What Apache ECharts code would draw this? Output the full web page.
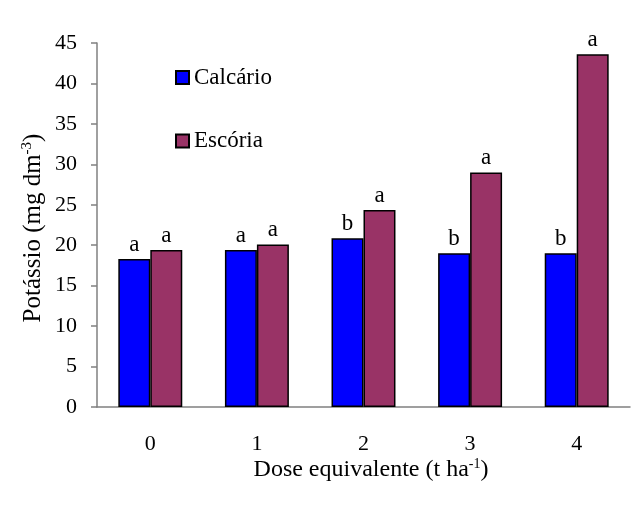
<!DOCTYPE html>
<html><head><meta charset="utf-8">
<script src="https://cdn.jsdelivr.net/npm/echarts@6/dist/echarts.min.js"></script>
<style>html,body{margin:0;padding:0;background:#fff}#c{width:640px;height:511px}</style>
</head><body><div id="c"></div>
<script>
var categories = ['0', '1', '2', '3', '4'];
var calcario = [18.3, 19.4, 20.85, 19.0, 19.0];
var escoria = [19.4, 20.1, 24.35, 29.0, 43.6];
var lettersCalcario = ['a', 'a', 'b', 'b', 'b'];
var lettersEscoria = ['a', 'a', 'a', 'a', 'a'];
var yTicks = [0, 5, 10, 15, 20, 25, 30, 35, 40, 45];

var FONT = '"Liberation Serif", "Times New Roman", serif';
var chart = echarts.init(document.getElementById('c'), null, {renderer: 'canvas'});
function mk(name, vals, letters, color) {
  return {
    name: name, type: 'bar', barGap: '0%', barCategoryGap: '40%',
    data: vals,
    itemStyle: {color: color, borderColor: '#000', borderWidth: 1.5},
    label: {show: true, position: 'top', distance: 3, color: '#000', fontFamily: FONT, fontSize: 23,
      formatter: function (p) { return letters[p.dataIndex]; }},
    emphasis: {disabled: true}
  };
}
var supRich = {
  n: {fontFamily: FONT, fontSize: 24, fill: '#000', color: '#000'},
  s: {fontFamily: FONT, fontSize: 14, fill: '#000', color: '#000', padding: [0, 0, 12, 0]}
};
var supRichY = {
  n: {fontFamily: FONT, fontSize: 25, fill: '#000', color: '#000'},
  s: {fontFamily: FONT, fontSize: 15, fill: '#000', color: '#000', padding: [0, 0, 12, 0]}
};
chart.setOption({
  animation: false,
  grid: {left: 97, right: 10, top: 43, bottom: 104},
  legend: [
    {data: ['Calcário'], left: 170, top: 61, icon: 'rect', itemWidth: 13, itemHeight: 13,
      textStyle: {fontFamily: FONT, fontSize: 23, color: '#000'}},
    {data: ['Escória'], left: 170, top: 124.5, icon: 'rect', itemWidth: 13, itemHeight: 13,
      textStyle: {fontFamily: FONT, fontSize: 23, color: '#000'}}
  ],
  xAxis: {
    type: 'category', data: categories,
    axisLine: {lineStyle: {color: '#808080', width: 1.5}},
    axisTick: {show: false},
    axisLabel: {color: '#000', fontFamily: FONT, fontSize: 22, margin: 26}
  },
  yAxis: {
    type: 'value', min: yTicks[0], max: yTicks[yTicks.length - 1], interval: 5,
    splitLine: {show: false},
    axisLine: {show: true, lineStyle: {color: '#808080', width: 1.5}},
    axisTick: {show: true, length: 6, lineStyle: {color: '#808080', width: 1.5}},
    axisLabel: {color: '#000', fontFamily: FONT, fontSize: 22, margin: 20}
  },
  graphic: [
    {type: 'text', x: 371, y: 470,
      style: {text: '{n|Dose equivalente (t ha}{s|-1}{n|)}', rich: supRich, align: 'center', verticalAlign: 'middle'}},
    {type: 'text', x: 33, y: 228, rotation: Math.PI / 2,
      style: {text: '{n|Potássio (mg dm}{s|-3}{n|)}', rich: supRichY, align: 'center', verticalAlign: 'middle'}}
  ],
  series: [
    mk('Calcário', calcario, lettersCalcario, '#0000FF'),
    mk('Escória', escoria, lettersEscoria, '#993366')
  ]
});
</script></body></html>
